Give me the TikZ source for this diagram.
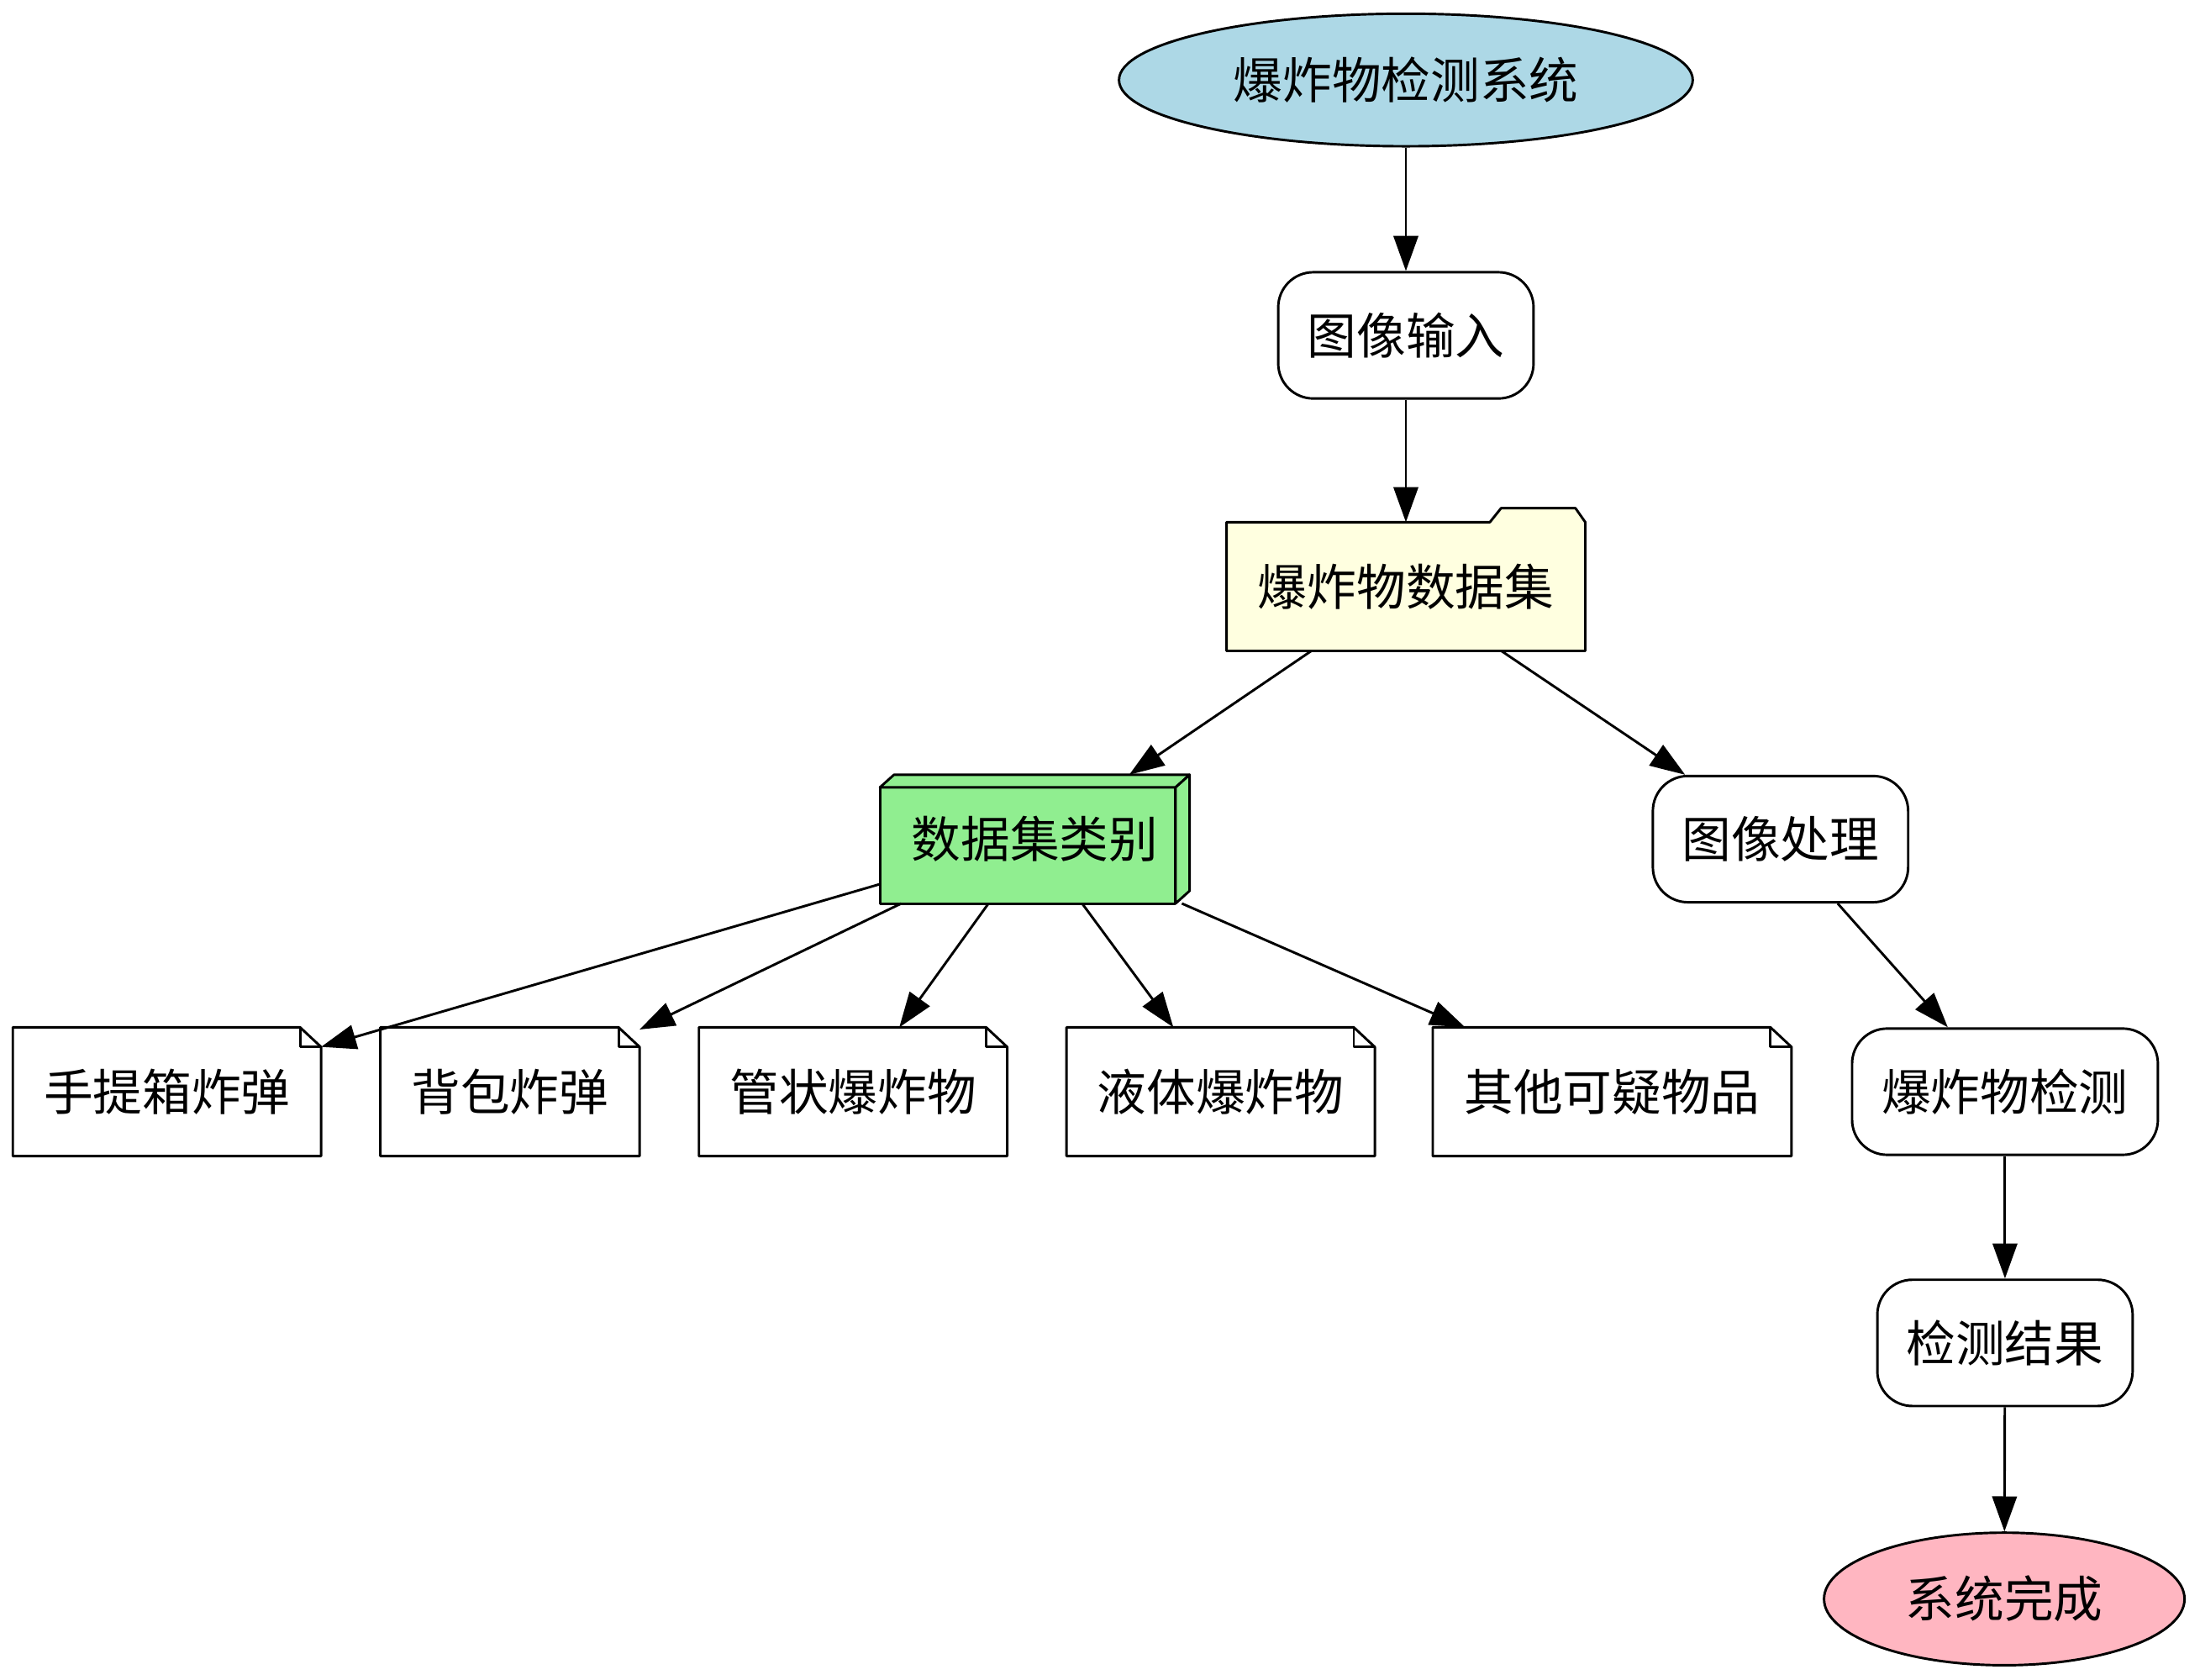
\documentclass[tikz,border=0pt]{standalone}
\usepackage{fontspec}
\setmainfont{Noto Sans CJK SC}
\usetikzlibrary{shapes.geometric,arrows.meta,backgrounds}
\definecolor{skyfill}{HTML}{ADD8E6}
\definecolor{pinkfill}{HTML}{FFB6C1}
\definecolor{yellowfill}{HTML}{FFFFE0}
\definecolor{greenfill}{HTML}{90EE90}

\begin{document}
\begin{tikzpicture}[x=0.02cm,y=-0.02cm,line width=1pt,
    font=\fontsize{20pt}{24pt}\selectfont,
    >={Triangle[length=0.5cm,width=0.35cm]},
    el/.style={shape=ellipse,draw=black,inner sep=0pt,minimum height=1.89cm},
    rr/.style={shape=rectangle,draw=black,rounded corners=0.5cm,minimum width=3.64cm,minimum height=1.8cm},
    nt/.style={shape=rectangle,inner sep=0pt,minimum height=1.8cm},
    ol/.style={draw=black,line width=1pt,line join=round}]
    \useasboundingbox (0,0) rectangle (1568,1197.2);

    \node[el,fill=skyfill,minimum width=8.18cm] (1) at (1002,57) {爆炸物检测系统};
    \node[rr] (2) at (1002,239) {图像输入};
    \node[nt,minimum width=5.08cm] (3) at (1002,418) {爆炸物数据集};
    \node[nt,minimum width=4.38cm] (4) at (737.5,598) {数据集类别};
    \node[rr] (5) at (1269,598) {图像处理};
    \node[nt,minimum width=4.36cm] (6) at (119,778) {手提箱炸弹};
    \node[nt,minimum width=3.66cm] (7) at (363.5,778) {背包炸弹};
    \node[nt,minimum width=4.36cm] (8) at (608,778) {管状爆炸物};
    \node[nt,minimum width=4.36cm] (9) at (870,778) {液体爆炸物};
    \node[nt,minimum width=5.08cm] (10) at (1149,778) {其他可疑物品};
    \node[rr,minimum width=4.36cm] (11) at (1429,778) {爆炸物检测};
    \node[rr] (12) at (1429,957) {检测结果};
    \node[el,fill=pinkfill,minimum width=5.14cm] (13) at (1428.5,1139.5) {系统完成};

    \begin{scope}[on background layer]
      % folder
      \draw[ol,fill=yellowfill] (3.south west) -- (3.north west) -- ([xshift=-1.36cm]3.north east)
        -- ([xshift=-1.2cm,yshift=0.2cm]3.north east) -- ([xshift=-0.14cm,yshift=0.2cm]3.north east)
        -- (3.north east) -- (3.south east) -- cycle;
      % box
      \draw[ol,fill=greenfill] (4.south west) rectangle ([xshift=-0.2cm,yshift=-0.18cm]4.north east);
      \draw[ol,fill=greenfill] ([yshift=-0.18cm]4.north west) -- ([xshift=0.2cm]4.north west) -- (4.north east)
        -- ([xshift=-0.2cm,yshift=-0.18cm]4.north east) -- cycle;
      \draw[ol,fill=greenfill] ([xshift=-0.2cm,yshift=-0.18cm]4.north east) -- (4.north east)
        -- ([yshift=0.18cm]4.south east) -- ([xshift=-0.2cm]4.south east) -- cycle;
      % notes
      \foreach \n in {6,7,8,9,10} {
        \draw[ol,fill=white] (\n.south west) -- (\n.north west) -- ([xshift=-0.3cm]\n.north east)
          -- ([yshift=-0.28cm]\n.north east) -- (\n.south east) -- cycle;
        \draw[ol] ([xshift=-0.3cm]\n.north east) |- ([yshift=-0.28cm]\n.north east);
      }
    \end{scope}

    \path[->] (1) edge (2);
    \path[->] (2) edge (3);
    \path[->] (3) edge (4);
    \path[->] (3) edge (5);
    \path[->] (4) edge (6);
    \path[->] (4) edge (7);
    \path[->] (4) edge (8);
    \path[->] (4) edge (9);
    \path[->] (4) edge (10);
    \path[->] (5) edge (11);
    \path[->] (11) edge (12);
    \path[->] (12) edge (13);

  \end{tikzpicture}
\end{document}
